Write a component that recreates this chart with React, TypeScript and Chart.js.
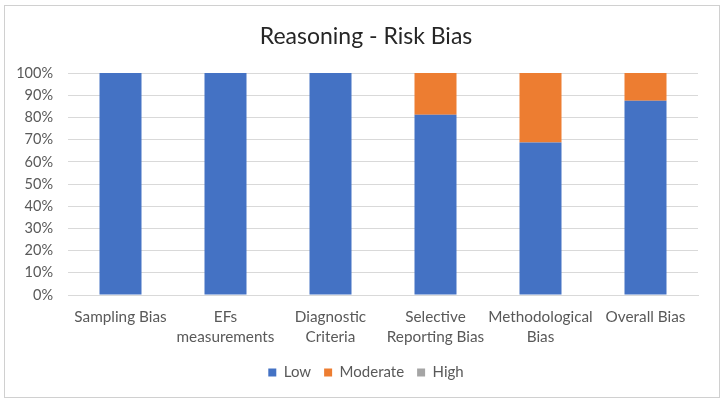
import React, { useEffect, useRef } from "react";
import { Chart, registerables } from "chart.js";

Chart.register(...registerables);

const categories: string[][] = [
  ["Sampling Bias"],
  ["EFs", "measurements"],
  ["Diagnostic", "Criteria"],
  ["Selective", "Reporting Bias"],
  ["Methodological", "Bias"],
  ["Overall Bias"],
];
const lowValues = [100, 100, 100, 81.25, 68.75, 87.5];
const moderateValues = [0, 0, 0, 18.75, 31.25, 12.5];
const highValues = [0, 0, 0, 0, 0, 0];
const titleText = "Reasoning - Risk Bias";

const FONT = "Lato, 'Open Sans', sans-serif";

export default function App() {
  const ref = useRef<HTMLCanvasElement | null>(null);
  useEffect(() => {
    document.body.style.margin = "0";
    const chart = new Chart(ref.current!, {
      type: "bar",
      data: {
        labels: categories,
        datasets: [
          { label: "Low", data: lowValues, backgroundColor: "#4472c4", barPercentage: 0.4, categoryPercentage: 1 },
          { label: "Moderate", data: moderateValues, backgroundColor: "#ed7d31", barPercentage: 0.4, categoryPercentage: 1 },
          { label: "High", data: highValues, backgroundColor: "#a5a5a5", barPercentage: 0.4, categoryPercentage: 1 },
        ],
      },
      options: {
        animation: false,
        responsive: false,
        layout: { padding: { left: 10, right: 2, top: 4, bottom: 7 } },
        plugins: {
          title: {
            display: true,
            text: titleText,
            color: "#262626",
            font: { family: FONT, size: 23, weight: "normal" },
            padding: { top: 13, bottom: 22.5 },
          },
          legend: {
            position: "bottom",
            labels: {
              color: "#595959",
              font: { family: FONT, size: 15 },
              usePointStyle: true,
              pointStyle: "rect",
              boxWidth: 8,
              boxHeight: 8,
              padding: 13,
            },
          },
          tooltip: { enabled: false },
        },
        scales: {
          x: {
            stacked: true,
            grid: { display: false, drawTicks: false },
            border: { color: "#d9d9d9" },
            afterFit: (axis: any) => {
              axis.height = 57;
            },
            ticks: {
              color: "#595959",
              font: { family: FONT, size: 15.3, lineHeight: 1.3 },
              padding: 12,
              maxRotation: 0,
              autoSkip: false,
            },
          },
          y: {
            stacked: true,
            min: 0,
            max: 100,
            afterFit: (axis: any) => {
              axis.width = 53;
            },
            grid: { color: "#d9d9d9", drawTicks: false },
            border: { display: false },
            ticks: {
              stepSize: 10,
              color: "#595959",
              font: { family: FONT, size: 14.5 },
              padding: 15,
              callback: (v: any) => v + "%",
            },
          },
          spacer: {
            type: "linear",
            position: "right",
            display: true,
            grid: { display: false, drawTicks: false },
            border: { display: false },
            ticks: { display: false },
            afterFit: (axis: any) => {
              axis.width = 19;
            },
          },
        },
      },
    });
    return () => chart.destroy();
  }, []);
  return (
    <div style={{ position: "relative", width: 725, height: 405, background: "#fff" }}>
      <div
        style={{
          position: "absolute",
          left: 4,
          top: 5,
          width: 714,
          height: 391,
          border: "1px solid #d0d0d0",
        }}
      >
        <canvas ref={ref} width={714} height={391} />
      </div>
    </div>
  );
}
